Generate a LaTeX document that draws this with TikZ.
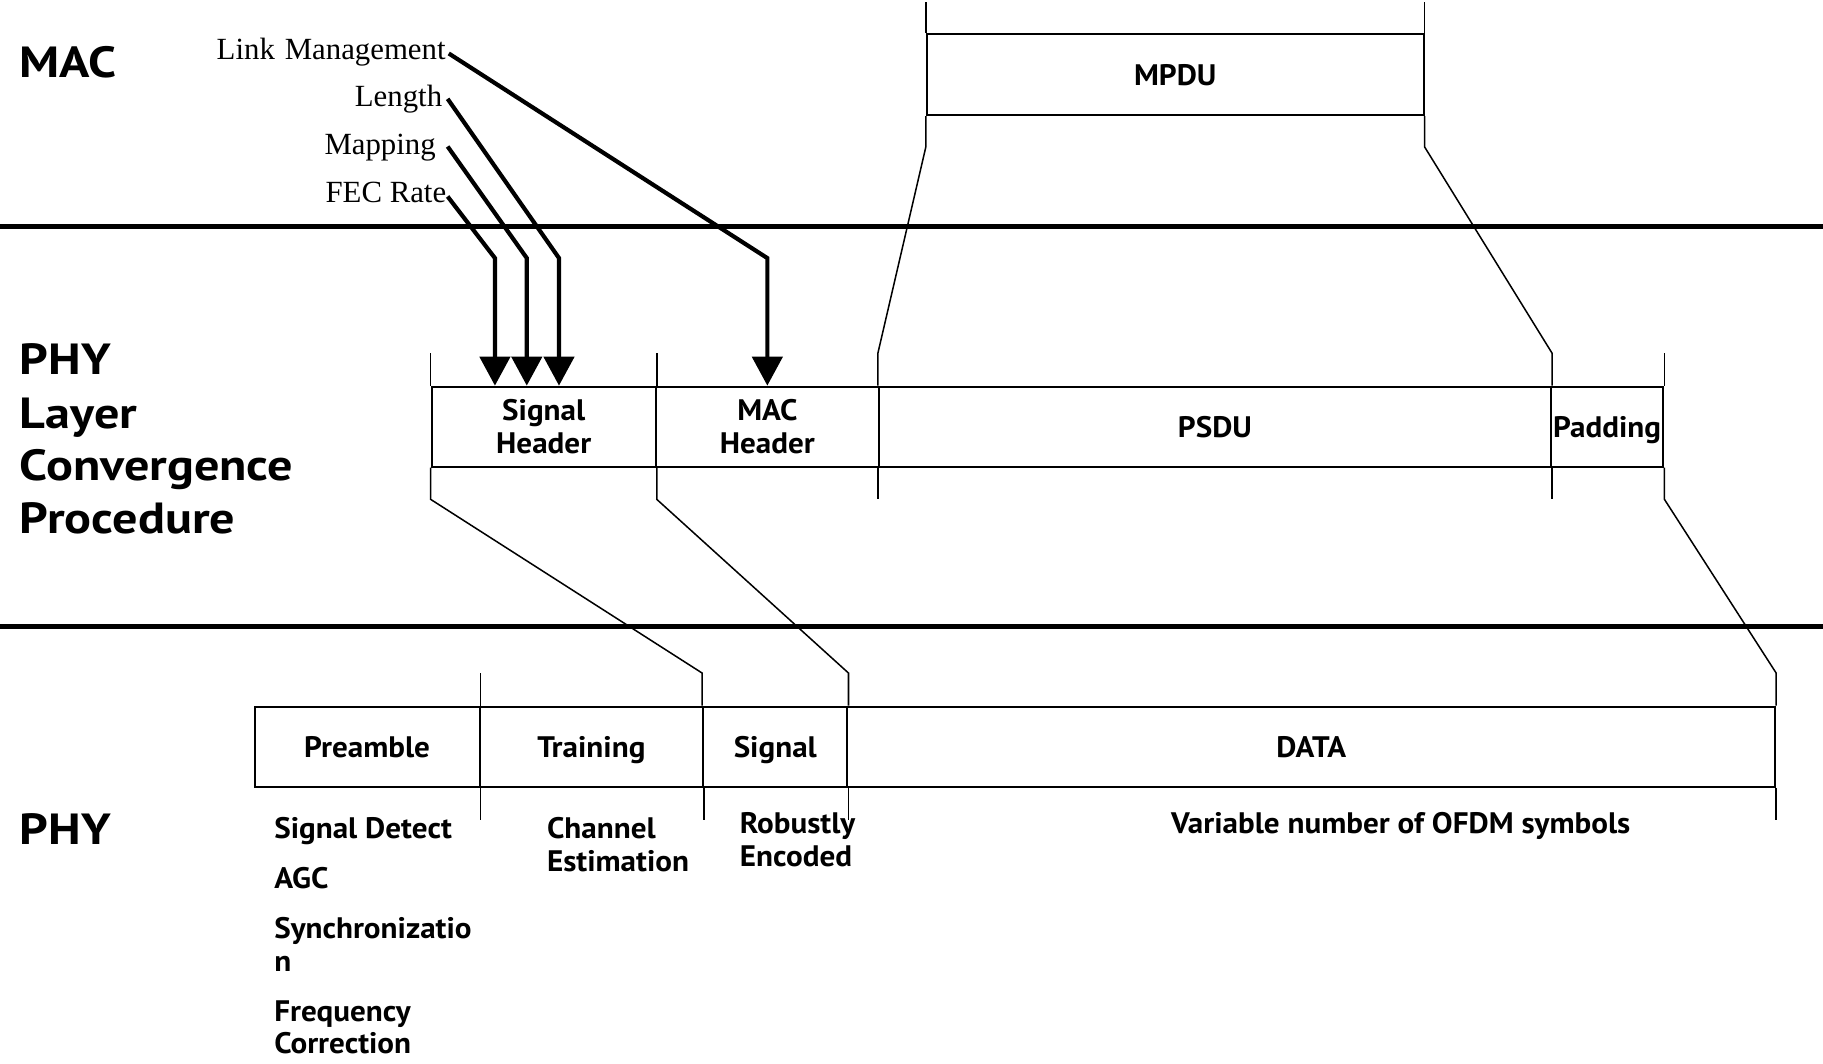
\documentclass[tikz,border=0pt]{standalone}
\usepackage{fontspec}
\setmainfont{Liberation Serif}
\newfontfamily\lblfont{PT Sans}[FakeStretch=1.05]
\newfontfamily\layfont{PT Sans}[FakeStretch=1.15]
\usetikzlibrary{arrows.meta,calc}

\tikzset{
  field/.style={draw, line width=1.8pt, inner sep=0pt, align=center,
    font=\lblfont\bfseries\fontsize{25.5}{29}\selectfont},
  oneline/.style={text height=19pt, text depth=0pt},
  lay/.style={anchor=base west, inner sep=0pt,
    font=\layfont\bfseries\fontsize{37.5}{45}\selectfont},
  note/.style={anchor=base west, inner sep=0pt,
    font=\lblfont\bfseries\fontsize{25.5}{29}\selectfont},
  param/.style={anchor=base east, inner sep=0pt, font=\fontsize{26.5}{30}\selectfont},
  feed/.style={line width=3.6pt, -{Triangle[width=26pt,length=25pt]}},
  guide/.style={line width=1.3pt},
  rule/.style={line width=4.4pt},
}

\begin{document}
\begin{tikzpicture}[x=1pt,y=-1pt]
\useasboundingbox (0,0) rectangle (1568,915);

% layer separators
\coordinate (r1a) at (0,195);    \coordinate (r1b) at (1568,195);
\coordinate (r2a) at (0,539);    \coordinate (r2b) at (1568,539);
\draw[rule] (r1a) -- (r1b);
\draw[rule] (r2a) -- (r2b);

% layer names
\node[lay] (mac)  at (16.5,66.5)  {MAC};
\node[lay] (plc1) at (17,322.5)   {PHY};
\node[lay] (plc2) at (17,368.3)   {Layer};
\node[lay] (plc3) at (17,413)     {Convergence};
\node[lay] (plc4) at (17,458.6)   {Procedure};
\node[lay] (phy)  at (17,726)     {PHY};

% MAC frame
\node[field, oneline, minimum width=427.3pt, minimum height=69.4pt] (mpdu) at (1010.85,64.2) {MPDU};

% PLCP frame
\node[field, minimum width=192.7pt, minimum height=68.8pt] (sighdr) at (467.65,367) {Signal\\Header};
\node[field, minimum width=192pt,   minimum height=68.8pt] (machdr) at (660,367)    {MAC\\Header};
\node[field, oneline, minimum width=578pt,   minimum height=68.8pt] (psdu)   at (1045,367)   {PSDU};
\node[field, oneline, minimum width=96.7pt,  minimum height=68.8pt] (pad)    at (1382.35,367) {Padding};

% PHY frame
\node[field, oneline, minimum width=193.5pt, minimum height=68.9pt] (pre)  at (315.75,642.25)  {Preamble};
\node[field, oneline, minimum width=192.3pt, minimum height=68.9pt] (trn)  at (508.65,642.25)  {Training};
\node[field, oneline, minimum width=124.1pt, minimum height=68.9pt] (sig)  at (666.85,642.25)  {Signal};
\node[field, oneline, minimum width=797.9pt, minimum height=68.9pt] (data) at (1127.85,642.25) {DATA};

% MAC parameters feeding the signal and MAC headers
\node[param] (lm)  at (383.5,51)  {Link\hspace{8.5pt}Management};
\node[param] (len) at (380.5,92)  {Length};
\node[param] (map) at (375,133)   {Mapping};
\node[param] (fec) at (384,174)   {FEC Rate};

\coordinate (lmS)  at (386,46);
\coordinate (lenS) at (385,85);
\coordinate (mapS) at (385,126);
\coordinate (fecS) at (385,169);

\coordinate (fecT) at ($(sighdr.north west)+(55.3,0)$);
\coordinate (mapT) at ($(sighdr.north west)+(82.7,0)$);
\coordinate (lenT) at ($(sighdr.north west)+(110.4,0)$);

\draw[feed] (lmS)  -- (machdr.north |- 0,222) -- (machdr.north);
\draw[feed] (lenS) -- (lenT |- 0,222) -- (lenT);
\draw[feed] (mapS) -- (mapT |- 0,222) -- (mapT);
\draw[feed] (fecS) -- (fecT |- 0,222) -- (fecT);

% MPDU mapped onto the PSDU
\draw[guide] (mpdu.north west) -- ++(0,-27.2);
\draw[guide] (mpdu.north east) -- ++(0,-27.2);
\draw[guide] (mpdu.south west) -- ++(0,26.7) -- ($(psdu.north west)+(0,-28)$) -- (psdu.north west);
\draw[guide] (mpdu.south east) -- ++(0,26.7) -- ($(psdu.north east)+(0,-28)$) -- (psdu.north east);

% PLCP field boundaries
\draw[guide] (sighdr.north west) -- ++(0,-28);
\draw[guide] (sighdr.north east) -- ++(0,-28);
\draw[guide] (pad.north east)    -- ++(0,-28);
\draw[guide] (psdu.south west)   -- ++(0,27.2);
\draw[guide] (psdu.south east)   -- ++(0,27.2);

% PLCP fields mapped onto the PHY frame
\draw[guide] (sighdr.south west) -- ++(0,27.2) -- ($(sig.north west)+(0,-28)$) -- (sig.north west);
\draw[guide] (sighdr.south east) -- ++(0,27.2) -- ($(sig.north east)+(0,-28)$) -- (sig.north east);
\draw[guide] (pad.south east)    -- ++(0,27.2) -- ($(data.north east)+(0,-28)$) -- (data.north east);

% PHY field boundaries
\draw[guide] (pre.north east)  -- ++(0,-28);
\draw[guide] (pre.south east)  -- ++(0,28);
\draw[guide] (trn.south east)  -- ++(0,28);
\draw[guide] (sig.south east)  -- ++(0,28);
\draw[guide] (data.south east) -- ++(0,28);

% PHY field descriptions
\node[note] (sd)   at (235.7,721)   {Signal Detect};
\node[note] (agc)  at (235.7,764)   {AGC};
\node[note] (syn1) at (235.7,807)   {Synchronizatio};
\node[note] (syn2) at (235.7,835.8) {n};
\node[note] (fq1)  at (235.7,878.8) {Frequency};
\node[note] (fq2)  at (235.7,906)   {Correction};
\node[note] (ch1)  at (470.3,721)   {Channel};
\node[note] (ch2)  at (470.3,749.8) {Estimation};
\node[note] (rb1)  at (636.2,716.8) {Robustly};
\node[note] (rb2)  at (636.2,745.5) {Encoded};
\node[note] (var)  at (1007,716.8)  {Variable number of OFDM symbols};
\end{tikzpicture}
\end{document}
